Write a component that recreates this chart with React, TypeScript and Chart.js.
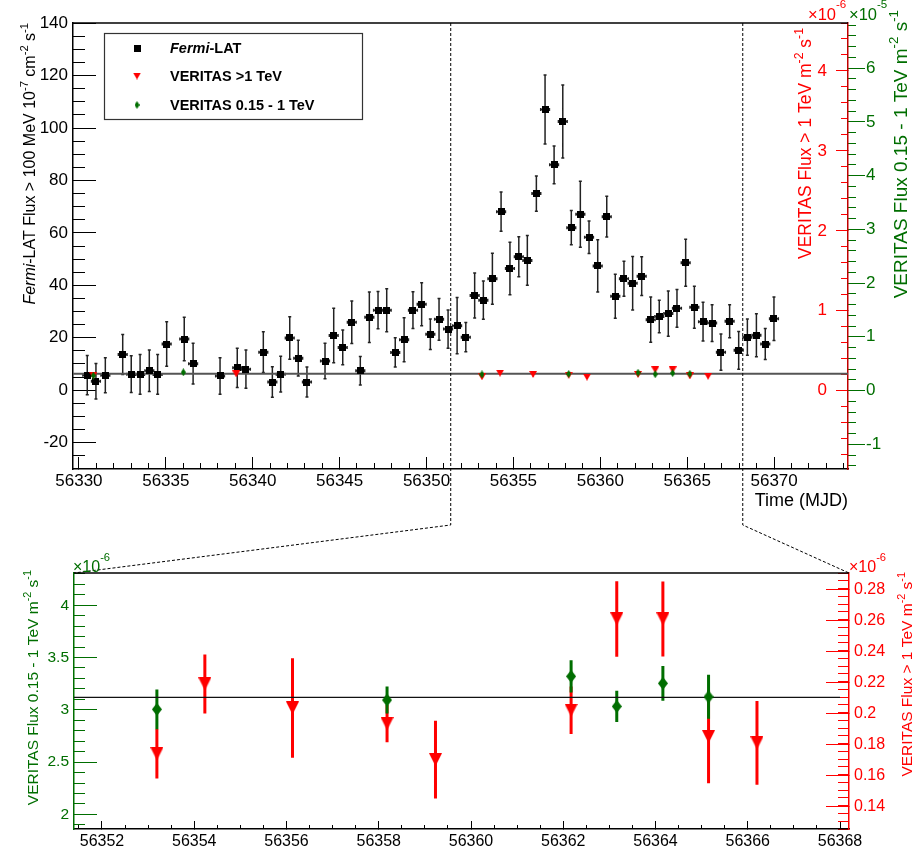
import React, { useEffect, useRef } from 'react';
import { Chart, registerables } from 'chart.js';

Chart.register(...registerables);

const FONT = '"Liberation Sans", Arial, Helvetica, sans-serif';
const RED = '#ff0000';
const GREEN = '#006e00';

// ---------------- data ----------------
// Fermi-LAT flux > 100 MeV (1e-7 cm^-2 s^-1)
const fermiDay = [
  56330.48, 56330.98, 56331.52, 56332.52, 56333.01, 56333.52, 56334.05, 56334.53, 56335.05, 56336.06,
  56336.57, 56338.12, 56339.11, 56339.61, 56340.61, 56341.13, 56341.61, 56342.13, 56342.62, 56343.12,
  56344.16, 56344.66, 56345.18, 56345.7, 56346.19, 56346.71, 56347.21, 56347.71, 56348.2, 56348.71,
  56349.22, 56349.72, 56350.22, 56350.72, 56351.24, 56351.76, 56352.26, 56352.77, 56353.27, 56353.79,
  56354.29, 56354.8, 56355.31, 56355.8, 56356.32, 56356.82, 56357.34, 56357.84, 56358.33, 56358.85,
  56359.35, 56359.85, 56360.37, 56360.86, 56361.36, 56361.86, 56362.38, 56362.9, 56363.39, 56363.91,
  56364.41, 56364.91, 56365.41, 56365.91, 56366.43, 56366.94, 56367.44, 56367.96, 56368.46, 56368.98,
  56369.49, 56369.99,
];
const fermiFlux = [
  5.7, 3.4, 5.7, 13.6, 6.1, 6.0, 7.4, 6.0, 17.6, 19.5,
  10.1, 5.4, 8.5, 8.0, 14.5, 3.1, 6.1, 19.9, 12.2, 3.1,
  11.1, 20.8, 16.3, 25.9, 7.4, 27.8, 30.5, 30.5, 14.4, 19.2,
  30.5, 32.8, 21.3, 27.0, 23.3, 24.6, 20.2, 36.1, 34.3, 42.5,
  68.1, 46.4, 50.9, 49.5, 75.0, 107.1, 86.0, 102.5, 62.0, 67.1,
  58.3, 47.4, 66.2, 35.8, 42.5, 40.8, 43.5, 26.9, 28.1, 29.2,
  31.2, 48.6, 31.6, 26.1, 25.6, 14.5, 26.3, 15.2, 20.2, 20.9,
  17.6, 27.2,
];
const fermiErr = [
  7.5, 6.8, 6.7, 7.6, 7.0, 7.6, 7.9, 7.6, 8.5, 8.3,
  7.8, 7.0, 7.5, 7.3, 7.8, 5.8, 6.8, 8.1, 6.8, 5.7,
  6.8, 10.4, 6.6, 8.1, 5.4, 9.6, 7.1, 8.2, 5.6, 8.4,
  7.0, 8.2, 5.8, 8.0, 7.3, 10.7, 5.6, 8.6, 7.3, 9.7,
  7.5, 10.0, 7.6, 9.5, 6.7, 13.2, 7.2, 13.9, 6.5, 12.6,
  6.2, 10.0, 7.8, 8.4, 6.7, 10.2, 7.4, 8.6, 6.2, 8.6,
  7.2, 9.0, 8.0, 7.4, 7.0, 6.9, 6.3, 7.2, 6.9, 8.2,
  5.9, 8.3,
];
const fermiHalfBin = 0.25;

// VERITAS > 1 TeV (1e-6 m^-2 s^-1)
const vhDay = [56330.83, 56339.05, 56353.19, 56354.23, 56356.13, 56358.18, 56359.23, 56362.17, 56363.16, 56364.16, 56365.15, 56366.2];
const vhFlux = [0.19, 0.21, 0.174, 0.219, 0.2035, 0.1934, 0.1702, 0.202, 0.2609, 0.2609, 0.185, 0.181];
const vhErr = [0.02, 0.02, 0.016, 0.019, 0.032, 0.012, 0.025, 0.0153, 0.0243, 0.0242, 0.03, 0.027];

// VERITAS 0.15 - 1 TeV (1e-6 m^-2 s^-1)
const vlDay = [56330.83, 56336.01, 56353.19, 56358.18, 56362.17, 56363.16, 56364.16, 56365.15];
const vlFlux = [2.8, 3.4, 3.005, 3.094, 3.32, 3.033, 3.253, 3.125];
const vlErr = [0.2, 0.2, 0.19, 0.13, 0.155, 0.15, 0.165, 0.21];

// constant fit of the >1 TeV flux (1e-6)
const fitLevel = 0.2104;
const fitEndBottom = 56368;

// tick labels
const topXTicks = [56330, 56335, 56340, 56345, 56350, 56355, 56360, 56365, 56370];
const topFermiTicks = [-20, 0, 20, 40, 60, 80, 100, 120, 140];
const topRedTicks = [0, 1, 2, 3, 4];
const topGreenTicks = [-10, 0, 10, 20, 30, 40, 50, 60]; // in 1e-6, labelled in 1e-5
const botXTicks = [56352, 56354, 56356, 56358, 56360, 56362, 56364, 56366, 56368];
const botGreenTicks = [2, 2.5, 3, 3.5, 4];
const botRedTicks = [0.14, 0.16, 0.18, 0.2, 0.22, 0.24, 0.26, 0.28];

const topRange = { xMin: 56329.66, xMax: 56374.25, fMin: -30.1, fMax: 140.1, rMin: -0.98, rMax: 4.6, gMin: -14.6, gMax: 68.4 };
const botRange = { xMin: 56351.393, xMax: 56368.195, gMin: 1.861, gMax: 4.308, rMin: 0.1255, rMax: 0.2905 };

// ---------------- helpers ----------------
type Seg = { t: string; sup?: boolean; it?: boolean; b?: boolean };

function drawRich(ctx: CanvasRenderingContext2D, segs: Seg[], x: number, y: number, size: number, color: string, vertical: boolean, align: 'left' | 'right', raise = 0.45) {
  const fontOf = (s: Seg) => `${s.it ? 'italic ' : ''}${s.b ? 'bold ' : ''}${s.sup ? size * 0.7 : size}px ${FONT}`;
  ctx.save();
  ctx.translate(x, y);
  if (vertical) ctx.rotate(-Math.PI / 2);
  ctx.fillStyle = color;
  ctx.textAlign = 'left';
  ctx.textBaseline = 'alphabetic';
  const w = segs.map((s) => { ctx.font = fontOf(s); return ctx.measureText(s.t).width; });
  let cx = align === 'right' ? -w.reduce((a, b) => a + b, 0) : 0;
  segs.forEach((s, i) => {
    ctx.font = fontOf(s);
    ctx.fillText(s.t, cx, s.sup ? -size * raise : 0);
    cx += w[i];
  });
  ctx.restore();
}

function makeMarker(kind: 'square' | 'tri' | 'dia', color: string, w: number, h: number) {
  const c = document.createElement('canvas');
  c.width = w; c.height = h;
  const g = c.getContext('2d')!;
  g.fillStyle = color;
  g.beginPath();
  if (kind === 'square') g.rect(0, 0, w, h);
  else if (kind === 'tri') { g.moveTo(0, 0); g.lineTo(w, 0); g.lineTo(w / 2, h); g.closePath(); }
  else { g.moveTo(w / 2, 0); g.lineTo(w, h / 2); g.lineTo(w / 2, h); g.lineTo(0, h / 2); g.closePath(); }
  g.fill();
  return c;
}

type AxOpt = {
  pos: 'left' | 'right' | 'bottom'; min: number; max: number; ticks?: number[]; step?: number; tl: number;
  color: string; size: number; weight: number; font?: number; pad?: number; fmt?: (v: number) => string;
  border?: { color: string; width: number }; mirror?: boolean;
};

function axis(o: AxOpt) {
  const horiz = o.pos === 'bottom';
  return {
    type: 'linear',
    position: o.pos,
    min: o.min,
    max: o.max,
    weight: o.weight,
    afterBuildTicks: (s: any) => { if (o.ticks) s.ticks = o.ticks.map((v) => ({ value: v })); },
    afterFit: (s: any) => {
      if (horiz) s.height = o.size; else s.width = o.size;
      s.paddingTop = 0; s.paddingBottom = 0; s.paddingLeft = 0; s.paddingRight = 0;
    },
    ticks: {
      display: !!o.ticks,
      stepSize: o.step,
      autoSkip: false,
      maxRotation: 0,
      minRotation: 0,
      includeBounds: false,
      mirror: !!o.mirror,
      color: o.color,
      padding: o.pad ?? 0,
      crossAlign: 'near',
      font: { family: FONT, size: o.font ?? 16 },
      callback: (v: number) => (o.fmt ? o.fmt(v) : String(v)),
    },
    grid: { display: true, drawOnChartArea: false, drawTicks: true, tickLength: o.tl, tickColor: o.color, tickWidth: 1 },
    border: o.border ? { display: true, color: o.border.color, width: o.border.width } : { display: false },
  };
}

const errorBarPlugin = {
  id: 'errorBars',
  beforeDatasetsDraw(chart: any) {
    const ctx = chart.ctx as CanvasRenderingContext2D;
    chart.data.datasets.forEach((ds: any, i: number) => {
      const eb = ds.errorBars;
      if (!eb) return;
      const meta = chart.getDatasetMeta(i);
      const xs = chart.scales[meta.xAxisID];
      const ys = chart.scales[meta.yAxisID];
      ctx.save();
      ctx.strokeStyle = eb.color;
      ctx.lineWidth = eb.width;
      ctx.beginPath();
      ds.data.forEach((p: any, j: number) => {
        if (p.x < xs.min || p.x > xs.max) return;
        const x = xs.getPixelForValue(p.x);
        const y = ys.getPixelForValue(p.y);
        const yt = ys.getPixelForValue(p.y + eb.yErr[j]);
        const yb = ys.getPixelForValue(p.y - eb.yErr[j]);
        ctx.moveTo(x, yt); ctx.lineTo(x, yb);
        if (eb.cap) {
          ctx.moveTo(x - eb.cap, yt); ctx.lineTo(x + eb.cap, yt);
          ctx.moveTo(x - eb.cap, yb); ctx.lineTo(x + eb.cap, yb);
        }
        if (eb.xErr) {
          const xl = xs.getPixelForValue(p.x - eb.xErr);
          const xr = xs.getPixelForValue(p.x + eb.xErr);
          ctx.moveTo(xl, y); ctx.lineTo(xr, y);
          if (eb.cap) {
            ctx.moveTo(xl, y - eb.cap); ctx.lineTo(xl, y + eb.cap);
            ctx.moveTo(xr, y - eb.cap); ctx.lineTo(xr, y + eb.cap);
          }
        }
      });
      ctx.stroke();
      ctx.restore();
    });
  },
};

const pts = (xs: number[], ys: number[]) => xs.map((x, i) => ({ x, y: ys[i] }));

export default function App() {
  const topRef = useRef<HTMLCanvasElement>(null);
  const botRef = useRef<HTMLCanvasElement>(null);

  useEffect(() => {
    const sq = makeMarker('square', '#000', 7, 7);
    const triS = makeMarker('tri', RED, 8, 7);
    const diaS = makeMarker('dia', GREEN, 5, 8);
    const triL = makeMarker('tri', RED, 13, 13);
    const diaL = makeMarker('dia', GREEN, 10, 13);

    const decoTop = {
      id: 'decoTop',
      afterDraw(chart: any) {
        const ctx = chart.ctx as CanvasRenderingContext2D;
        const a = chart.chartArea;
        const xs = chart.scales.x;
        ctx.save();
        // top frame
        ctx.strokeStyle = '#000'; ctx.lineWidth = 1.5;
        ctx.beginPath(); ctx.moveTo(a.left, a.top); ctx.lineTo(a.right, a.top); ctx.stroke();
        // zoom connectors
        const x1 = xs.getPixelForValue(botRange.xMin);
        const x2 = xs.getPixelForValue(botRange.xMax);
        ctx.lineWidth = 1; ctx.setLineDash([3, 2]);
        ctx.beginPath();
        ctx.moveTo(x1, a.top); ctx.lineTo(x1, 525); ctx.lineTo(74, 573);
        ctx.moveTo(x2, a.top); ctx.lineTo(x2, 525); ctx.lineTo(849, 573);
        ctx.stroke();
        ctx.setLineDash([]);
        // legend
        ctx.strokeStyle = '#333'; ctx.lineWidth = 1.2;
        ctx.strokeRect(104.5, 33.5, 258, 86);
        ctx.drawImage(sq, 137 - 3.5, 48 - 3.5);
        ctx.drawImage(triS, 137 - 4, 76 - 3.5);
        ctx.drawImage(diaS, 137 - 2.5, 105 - 4);
        ctx.restore();
        const ls = 14.5;
        drawRich(ctx, [{ t: 'Fermi', it: true, b: true }, { t: '-LAT', b: true }], 170, 48 + ls * 0.36, ls, '#000', false, 'left');
        drawRich(ctx, [{ t: 'VERITAS >1 TeV', b: true }], 170, 76 + ls * 0.36, ls, '#000', false, 'left');
        drawRich(ctx, [{ t: 'VERITAS 0.15 - 1 TeV', b: true }], 170, 105 + ls * 0.36, ls, '#000', false, 'left');
        // axis titles
        drawRich(ctx, [{ t: 'Fermi', it: true }, { t: '-LAT Flux > 100 MeV 10' }, { t: '-7', sup: true }, { t: ' cm' }, { t: '-2', sup: true }, { t: ' s' }, { t: '-1', sup: true }], 35, 23, 16, '#000', true, 'right');
        drawRich(ctx, [{ t: 'VERITAS Flux > 1 TeV m' }, { t: '-2', sup: true }, { t: ' s' }, { t: '-1', sup: true }], 811, 28, 17.5, RED, true, 'right');
        drawRich(ctx, [{ t: 'VERITAS Flux 0.15 - 1 TeV m' }, { t: '-2', sup: true }, { t: ' s' }, { t: '-1', sup: true }], 907, 10, 19, GREEN, true, 'right');
        drawRich(ctx, [{ t: 'Time (MJD)' }], 848, 506, 18, '#000', false, 'right');
        drawRich(ctx, [{ t: '\u00d710' }, { t: '-6', sup: true }], 808, 20, 16.5, RED, false, 'left', 0.7);
        drawRich(ctx, [{ t: '\u00d710' }, { t: '-5', sup: true }], 849, 20, 16.5, GREEN, false, 'left', 0.7);
      },
    };

    const decoBot = {
      id: 'decoBot',
      afterDraw(chart: any) {
        const ctx = chart.ctx as CanvasRenderingContext2D;
        const a = chart.chartArea;
        ctx.save();
        ctx.strokeStyle = '#000'; ctx.lineWidth = 1.5;
        ctx.beginPath(); ctx.moveTo(a.left, a.top); ctx.lineTo(a.right, a.top); ctx.stroke();
        ctx.restore();
        drawRich(ctx, [{ t: 'VERITAS Flux 0.15 - 1 TeV m' }, { t: '-2', sup: true }, { t: ' s' }, { t: '-1', sup: true }], 38, 570, 15.5, GREEN, true, 'right');
        drawRich(ctx, [{ t: 'VERITAS Flux > 1 TeV m' }, { t: '-2', sup: true }, { t: ' s' }, { t: '-1', sup: true }], 912, 572, 15.5, RED, true, 'right');
        drawRich(ctx, [{ t: '\u00d710' }, { t: '-6', sup: true }], 73, 572, 16, GREEN, false, 'left', 0.7);
        drawRich(ctx, [{ t: '\u00d710' }, { t: '-6', sup: true }], 849, 572, 16, RED, false, 'left', 0.7);
      },
    };

    const common = {
      animation: false,
      responsive: false,
      devicePixelRatio: 1,
      events: [],
    };

    const top = new Chart(topRef.current!, {
      type: 'scatter',
      data: {
        datasets: [
          {
            data: [{ x: topRange.xMin, y: fitLevel }, { x: topRange.xMax, y: fitLevel }],
            yAxisID: 'yR', xAxisID: 'x', showLine: true, borderColor: '#555', borderWidth: 2, pointRadius: 0, order: 4,
          },
          {
            data: pts(fermiDay, fermiFlux), yAxisID: 'y', xAxisID: 'x', pointStyle: sq, pointRadius: 4, order: 3,
            errorBars: { yErr: fermiErr, xErr: fermiHalfBin, color: '#222', width: 1.5, cap: 1.5 },
          },
          {
            data: pts(vhDay, vhFlux), yAxisID: 'yR', xAxisID: 'x', pointStyle: triS, pointRadius: 4, order: 2,
            errorBars: { yErr: vhErr, color: RED, width: 1 },
          },
          {
            data: pts(vlDay, vlFlux), yAxisID: 'yG', xAxisID: 'x', pointStyle: diaS, pointRadius: 4, order: 1,
            errorBars: { yErr: vlErr, color: GREEN, width: 1 },
          },
        ] as any,
      },
      options: {
        ...common,
        layout: { padding: { top: 23, bottom: 348, left: 0, right: 0 } },
        plugins: { legend: { display: false }, tooltip: { enabled: false } },
        scales: {
          x: axis({ pos: 'bottom', min: topRange.xMin, max: topRange.xMax, ticks: topXTicks, tl: -12, color: '#000', size: 40, weight: 1, font: 17, pad: 14, border: { color: '#000', width: 1.5 } }),
          xm: axis({ pos: 'bottom', min: topRange.xMin, max: topRange.xMax, step: 1, tl: -6, color: '#000', size: 0, weight: 0 }),
          y: axis({ pos: 'left', min: topRange.fMin, max: topRange.fMax, ticks: topFermiTicks, tl: -23, color: '#000', size: 73, weight: 1, font: 17, pad: 28, border: { color: '#000', width: 1.5 } }),
          ym: axis({ pos: 'left', min: topRange.fMin, max: topRange.fMax, step: 5, tl: -12, color: '#000', size: 0, weight: 0 }),
          yR: axis({ pos: 'right', min: topRange.rMin, max: topRange.rMax, ticks: topRedTicks, tl: -12, color: RED, size: 0, weight: 0, font: 17, pad: -21, mirror: true, border: { color: '#c00000', width: 1.5 } }),
          yRm: axis({ pos: 'right', min: topRange.rMin, max: topRange.rMax, step: 0.2, tl: -7, color: RED, size: 0, weight: 0 }),
          yGm: axis({ pos: 'right', min: topRange.gMin, max: topRange.gMax, step: 2, tl: 8, color: GREEN, size: 0, weight: 1 }),
          yG: axis({ pos: 'right', min: topRange.gMin, max: topRange.gMax, ticks: topGreenTicks, tl: 17, color: GREEN, size: 65, weight: 2, font: 17, pad: 1, fmt: (v) => String(v / 10) }),
        } as any,
      } as any,
      plugins: [errorBarPlugin, decoTop],
    });

    const bot = new Chart(botRef.current!, {
      type: 'scatter',
      data: {
        datasets: [
          {
            data: [{ x: botRange.xMin, y: fitLevel }, { x: fitEndBottom, y: fitLevel }],
            yAxisID: 'yR', xAxisID: 'x', showLine: true, borderColor: '#111', borderWidth: 1.3, pointRadius: 0, order: 3,
          },
          {
            data: pts(vhDay, vhFlux), yAxisID: 'yR', xAxisID: 'x', pointStyle: triL, pointRadius: 6, order: 2,
            errorBars: { yErr: vhErr, color: RED, width: 3 },
          },
          {
            data: pts(vlDay, vlFlux), yAxisID: 'yG', xAxisID: 'x', pointStyle: diaL, pointRadius: 6, order: 1,
            errorBars: { yErr: vlErr, color: GREEN, width: 3 },
          },
        ] as any,
      },
      options: {
        ...common,
        layout: { padding: { top: 573, bottom: 0, left: 0, right: 0 } },
        plugins: { legend: { display: false }, tooltip: { enabled: false } },
        scales: {
          x: axis({ pos: 'bottom', min: botRange.xMin, max: botRange.xMax, ticks: botXTicks, tl: -8, color: '#000', size: 28, weight: 1, font: 16, pad: 11, border: { color: '#000', width: 1.5 } }),
          xm: axis({ pos: 'bottom', min: botRange.xMin, max: botRange.xMax, step: 0.5, tl: -4, color: '#000', size: 0, weight: 0 }),
          yG: axis({ pos: 'left', min: botRange.gMin, max: botRange.gMax, ticks: botGreenTicks, tl: -23, color: GREEN, size: 74, weight: 1, font: 15.5, pad: 28, border: { color: GREEN, width: 1.5 } }),
          yGm: axis({ pos: 'left', min: botRange.gMin, max: botRange.gMax, step: 0.1, tl: -11, color: GREEN, size: 0, weight: 0 }),
          yR: axis({ pos: 'right', min: botRange.rMin, max: botRange.rMax, ticks: botRedTicks, tl: -23, color: RED, size: 64, weight: 1, font: 16, pad: 28, fmt: (v) => String(+v.toFixed(2)), border: { color: RED, width: 1.5 } }),
          yRm: axis({ pos: 'right', min: botRange.rMin, max: botRange.rMax, step: 0.005, tl: -11, color: RED, size: 0, weight: 0 }),
        } as any,
      } as any,
      plugins: [errorBarPlugin, decoBot],
    });

    return () => { top.destroy(); bot.destroy(); };
  }, []);

  return (
    <div style={{ position: 'absolute', left: 0, top: 0, width: 913, height: 857, background: '#fff', overflow: 'hidden' }}>
      <canvas ref={topRef} width={913} height={857} style={{ position: 'absolute', left: 0, top: 0 }} />
      <canvas ref={botRef} width={913} height={857} style={{ position: 'absolute', left: 0, top: 0 }} />
    </div>
  );
}
